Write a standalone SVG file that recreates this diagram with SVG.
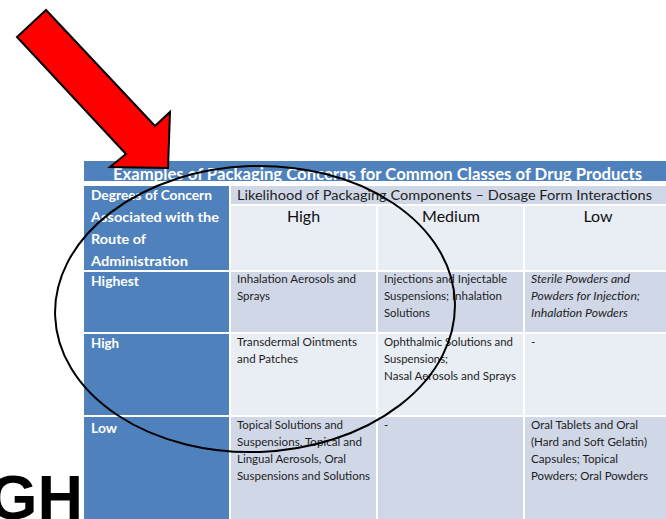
<svg xmlns="http://www.w3.org/2000/svg" width="666" height="519" viewBox="0 0 666 519">
<style>
.blue{fill:#4F81BD}
.c1{fill:#D0D8E8}
.c2{fill:#E9EDF4}
.t{font-family:Lato,"Open Sans","Liberation Sans",sans-serif}
.hd{font-family:Lato,"Open Sans","Liberation Sans",sans-serif;font-size:13px;font-weight:bold;fill:#fff}
.cell{font-family:Lato,"Open Sans","Liberation Sans",sans-serif;font-size:11.5px;fill:#1c1c1c}
.it{font-style:italic}
.col{font-family:Lato,"Open Sans","Liberation Sans",sans-serif;font-size:16px;fill:#111;text-anchor:middle}
</style>
<rect width="666" height="519" fill="#fff"/>
<g id="title">
<rect class="blue" x="84" y="161" width="582" height="20"/>
<text class="t" x="113" y="179.5" font-size="17.5" font-weight="bold" fill="#fff" textLength="529" lengthAdjust="spacingAndGlyphs">Examples of Packaging Concerns for Common Classes of Drug Products</text>
<rect x="84" y="181" width="582" height="5" fill="#fff"/>
</g>
<g id="header">
<rect class="blue" x="84" y="186" width="145" height="84"/>
<rect class="c1" x="231" y="186" width="435" height="18"/>
<rect class="c2" x="231" y="206" width="145" height="64"/>
<rect class="c2" x="378" y="206" width="145" height="64"/>
<rect class="c2" x="525" y="206" width="141" height="64"/>
<text class="hd" x="91" y="200" textLength="121" lengthAdjust="spacingAndGlyphs">Degrees of Concern</text>
<text class="hd" x="91" y="222" textLength="128" lengthAdjust="spacingAndGlyphs">Associated with the</text>
<text class="hd" x="91" y="244" textLength="55" lengthAdjust="spacingAndGlyphs">Route of</text>
<text class="hd" x="91" y="266" textLength="97" lengthAdjust="spacingAndGlyphs">Administration</text>
<text class="t" x="237" y="200" font-size="14" fill="#222" textLength="415" lengthAdjust="spacingAndGlyphs">Likelihood of Packaging Components – Dosage Form Interactions</text>
<text class="col" x="303.5" y="222">High</text>
<text class="col" x="451" y="222">Medium</text>
<text class="col" x="598" y="222">Low</text>
</g>
<g id="row-highest">
<rect class="blue" x="84" y="272" width="145" height="60"/>
<rect class="c1" x="231" y="272" width="145" height="60"/>
<rect class="c1" x="378" y="272" width="145" height="60"/>
<rect class="c1" x="525" y="272" width="141" height="60"/>
<text class="hd" x="91" y="286" textLength="48" lengthAdjust="spacingAndGlyphs">Highest</text>
<text class="cell" x="237" y="283" textLength="119" lengthAdjust="spacingAndGlyphs">Inhalation Aerosols and</text>
<text class="cell" x="237" y="300" textLength="33" lengthAdjust="spacingAndGlyphs">Sprays</text>
<text class="cell" x="384" y="283" textLength="123" lengthAdjust="spacingAndGlyphs">Injections and Injectable</text>
<text class="cell" x="384" y="300" textLength="118" lengthAdjust="spacingAndGlyphs">Suspensions; Inhalation</text>
<text class="cell" x="384" y="317" textLength="46" lengthAdjust="spacingAndGlyphs">Solutions</text>
<text class="cell it" x="531" y="283" textLength="99" lengthAdjust="spacingAndGlyphs">Sterile Powders and</text>
<text class="cell it" x="531" y="300" textLength="109" lengthAdjust="spacingAndGlyphs">Powders for Injection;</text>
<text class="cell it" x="531" y="317" textLength="97" lengthAdjust="spacingAndGlyphs">Inhalation Powders</text>
</g>
<g id="row-high">
<rect class="blue" x="84" y="334" width="145" height="81"/>
<rect class="c2" x="231" y="334" width="145" height="81"/>
<rect class="c2" x="378" y="334" width="145" height="81"/>
<rect class="c2" x="525" y="334" width="141" height="81"/>
<text class="hd" x="91" y="348" textLength="28" lengthAdjust="spacingAndGlyphs">High</text>
<text class="cell" x="237" y="346" textLength="120" lengthAdjust="spacingAndGlyphs">Transdermal Ointments</text>
<text class="cell" x="237" y="363" textLength="61" lengthAdjust="spacingAndGlyphs">and Patches</text>
<text class="cell" x="384" y="346" textLength="129" lengthAdjust="spacingAndGlyphs">Ophthalmic Solutions and</text>
<text class="cell" x="384" y="363" textLength="64" lengthAdjust="spacingAndGlyphs">Suspensions;</text>
<text class="cell" x="384" y="380" textLength="132" lengthAdjust="spacingAndGlyphs">Nasal Aerosols and Sprays</text>
<text class="cell" x="531" y="346">-</text>
</g>
<g id="row-low">
<rect class="blue" x="84" y="417" width="145" height="102"/>
<rect class="c1" x="231" y="417" width="145" height="102"/>
<rect class="c1" x="378" y="417" width="145" height="102"/>
<rect class="c1" x="525" y="417" width="141" height="102"/>
<text class="hd" x="91" y="433" textLength="26" lengthAdjust="spacingAndGlyphs">Low</text>
<text class="cell" x="237" y="429" textLength="106" lengthAdjust="spacingAndGlyphs">Topical Solutions and</text>
<text class="cell" x="237" y="446" textLength="125" lengthAdjust="spacingAndGlyphs">Suspensions, Topical and</text>
<text class="cell" x="237" y="463" textLength="109" lengthAdjust="spacingAndGlyphs">Lingual Aerosols, Oral</text>
<text class="cell" x="237" y="480" textLength="133" lengthAdjust="spacingAndGlyphs">Suspensions and Solutions</text>
<text class="cell" x="384" y="429">-</text>
<text class="cell" x="531" y="429" textLength="107" lengthAdjust="spacingAndGlyphs">Oral Tablets and Oral</text>
<text class="cell" x="531" y="446" textLength="116" lengthAdjust="spacingAndGlyphs">(Hard and Soft Gelatin)</text>
<text class="cell" x="531" y="463" textLength="87" lengthAdjust="spacingAndGlyphs">Capsules; Topical</text>
<text class="cell" x="531" y="480" textLength="117" lengthAdjust="spacingAndGlyphs">Powders; Oral Powders</text>
</g>
<g id="gh">
<text x="83" y="519" font-family="'Liberation Sans',Arial,sans-serif" font-size="63" font-weight="bold" fill="#000" text-anchor="end">GH</text>
</g>
<g id="annotations">
<polygon id="arrow" points="46,10 17,37 126,154 110,167 168,168 170,112 155,126" fill="#FF0000" stroke="#000" stroke-width="2" stroke-linejoin="miter"/>
<ellipse id="circle" cx="255" cy="309" rx="200" ry="143" transform="rotate(-2 255 309)" fill="none" stroke="#000" stroke-width="2"/>
</g>
</svg>
